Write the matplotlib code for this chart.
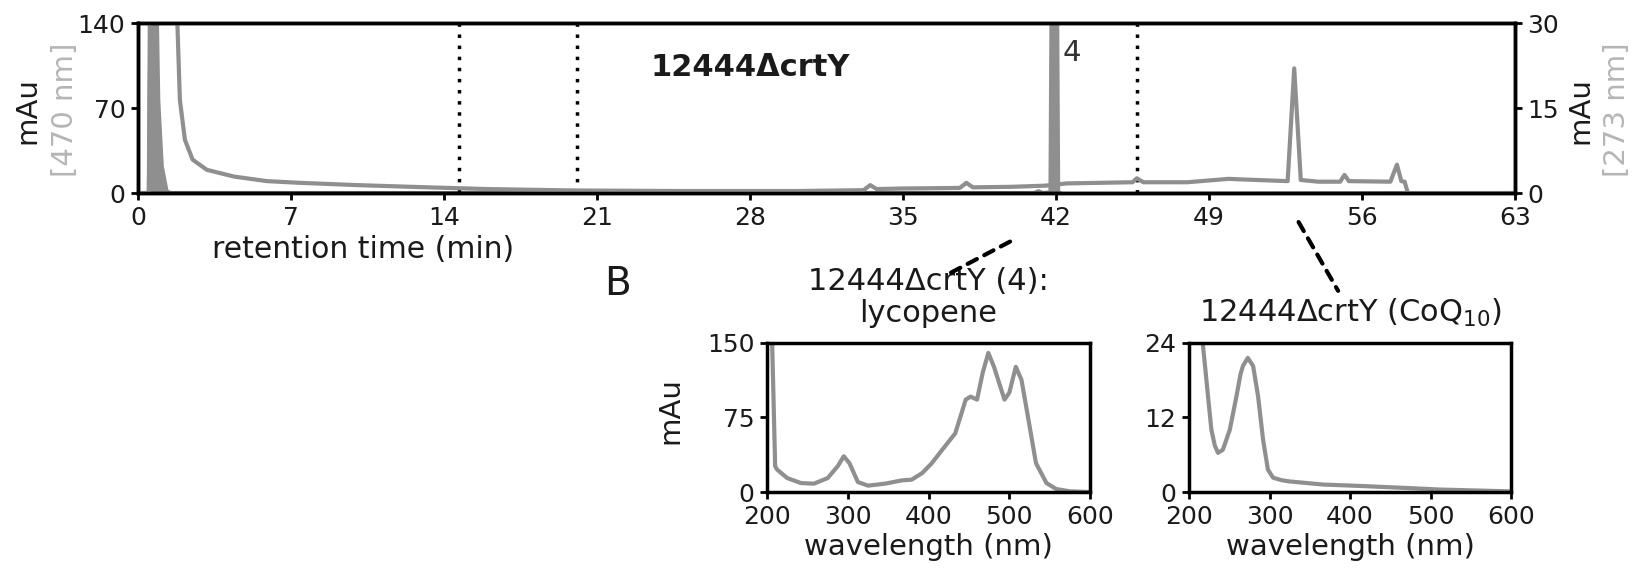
import matplotlib
matplotlib.use("Agg")
import matplotlib.pyplot as plt
from matplotlib.patches import ConnectionPatch

plt.rcParams["font.family"] = ["DejaVu Sans"]

# chromatogram, 470 nm trace (left axis)
t470 = [0, 0.5, 0.55, 0.85, 0.93, 1.09, 1.31, 1.5, 41.0, 41.2, 41.4, 41.75, 41.8, 42.05, 42.1, 42.3, 63]
a470 = [0, 0, 160, 160, 76, 22, 1.4, 0, 0, 1.5, 0, 0.5, 160, 160, 0.5, -1, 0]

# chromatogram, 273 nm trace (right axis)
t273 = [0, 0.5, 0.6, 1.72, 1.92, 2.15, 2.5, 3.15, 4.4, 5.9, 7.4, 10, 13.3, 16, 20, 25, 30,
        33.2, 33.5, 33.8, 35, 37.6, 37.9, 38.2, 40, 41.5, 42.5, 44, 45.5, 45.7, 46, 48,
        49.9, 50.5, 52.6, 52.9, 53.2, 54, 55.0, 55.2, 55.4, 57.3, 57.6, 57.8, 57.95, 58.1, 63]
a273 = [0, 0, 40, 40, 16.4, 9.4, 5.9, 4.1, 2.9, 2.1, 1.8, 1.4, 1.0, 0.7, 0.45, 0.35, 0.35,
        0.5, 1.4, 0.7, 0.8, 0.9, 1.8, 1.0, 1.1, 1.3, 1.7, 1.8, 1.9, 2.6, 1.9, 1.9,
        2.5, 2.4, 2.1, 22, 2.3, 2.0, 2.0, 3.2, 2.1, 2.0, 5.0, 2.1, 2.0, 0, 0]

dotted_times = [14.7, 20.1, 45.7]

# UV-Vis spectrum of peak 4 (lycopene)
wl_lyc = [200, 206, 210, 212.5, 225, 242, 258, 275, 287.5, 295, 302, 312.5, 325, 346, 367,
          379, 392, 404, 417, 433, 446, 452, 460, 467, 474, 481, 494, 500, 508, 515, 523,
          533, 546, 558, 575, 600]
ab_lyc = [200, 160, 26, 22.5, 14, 9, 8.4, 14, 26, 36, 29, 10, 6.4, 8.4, 11.7,
          12.4, 19, 29, 42.6, 59, 93, 96, 93, 120, 140, 126, 93, 100, 126, 113, 76,
          29, 9, 3, 0.7, 0]

# UV-Vis spectrum of CoQ10
wl_coq = [200, 215, 217, 219.5, 223.6, 227.8, 232, 236, 242, 250.6, 258.9, 264, 267, 273,
          279.6, 285.8, 292, 298, 304.5, 315, 325, 366.6, 408, 470, 511, 600]
ab_coq = [40, 30, 24, 20.8, 15.4, 10, 7.5, 6.3, 6.8, 10, 15.4, 19, 20.3, 21.6,
          20.3, 15.4, 8.4, 3.6, 2.3, 1.9, 1.7, 1.2, 1.0, 0.65, 0.4, 0.1]

trace_col = "#8f8f8f"
label_grey = "#b5b5b5"
txt_col = "#1a1a1a"
tick_fs = 18
lab_fs = 21
title_fs = 22

fig = plt.figure(figsize=(16.38, 5.86), dpi=100)


def style_axes(ax):
    for sp in ax.spines.values():
        sp.set_linewidth(2.5)
        sp.set_color("black")
    ax.tick_params(direction="out", length=5, width=2, labelsize=tick_fs,
                   labelcolor=txt_col, pad=4)
    ax.tick_params(top=False)


ax = fig.add_axes([0.0842, 0.6706, 0.8407, 0.2901])
ax.fill_between(t470, a470, 0, color=trace_col, lw=0)
ax.plot(t470, a470, color=trace_col, lw=3, solid_joinstyle="miter")
ax.set_xlim(0, 63)
ax.set_ylim(0, 140)
ax.set_xticks(range(0, 64, 7))
ax.set_yticks([0, 70, 140])
for t in dotted_times:
    ax.axvline(t, color="black", lw=2.5, linestyle=(0, (1, 2.2)))
style_axes(ax)
ax.tick_params(right=False)

ax2 = ax.twinx()
ax2.plot(t273, a273, color=trace_col, lw=3)
ax2.set_ylim(0, 30)
ax2.set_yticks([0, 15, 30])
style_axes(ax2)
ax2.tick_params(left=False, bottom=False, labelbottom=False)

ax.text(28.0, 103, "12444ΔcrtY", fontsize=title_fs, fontweight="bold",
        ha="center", va="center", color=txt_col)
ax.text(42.3, 115, "4", fontsize=lab_fs, ha="left", va="center", color="#333333")

fig.text(0.2216, 0.575, "retention time (min)", fontsize=21.5, ha="center",
         va="center", color=txt_col)
fig.text(0.0165, 0.812, "mAu", fontsize=lab_fs, rotation=90, ha="center",
         va="center", color=txt_col)
fig.text(0.0397, 0.812, "[470 nm]", fontsize=lab_fs, rotation=90, ha="center",
         va="center", color=label_grey)
fig.text(0.9646, 0.812, "mAu", fontsize=lab_fs, rotation=90, ha="center",
         va="center", color=txt_col)
fig.text(0.9872, 0.812, "[273 nm]", fontsize=lab_fs, rotation=90, ha="center",
         va="center", color=label_grey)
fig.text(0.377, 0.515, "B", fontsize=28, ha="center", va="center", color=txt_col)

# inset spectra
ins1 = fig.add_axes([0.4683, 0.1604, 0.1972, 0.2543])
ins1.plot(wl_lyc, ab_lyc, color=trace_col, lw=3)
ins1.set_xlim(200, 600)
ins1.set_ylim(0, 150)
ins1.set_xticks([200, 300, 400, 500, 600])
ins1.set_yticks([0, 75, 150])
ins1.set_xlabel("wavelength (nm)", fontsize=lab_fs, color=txt_col, labelpad=3)
ins1.set_title("12444ΔcrtY (4):\nlycopene", fontsize=title_fs, color=txt_col,
               pad=15, linespacing=1.12)
fig.text(0.409, 0.2986, "mAu", fontsize=lab_fs, rotation=90, ha="center",
         va="center", color=txt_col)
style_axes(ins1)

ins2 = fig.add_axes([0.7259, 0.1604, 0.1966, 0.2543])
ins2.plot(wl_coq, ab_coq, color=trace_col, lw=3)
ins2.set_xlim(200, 600)
ins2.set_ylim(0, 24)
ins2.set_xticks([200, 300, 400, 500, 600])
ins2.set_yticks([0, 12, 24])
ins2.set_xlabel("wavelength (nm)", fontsize=lab_fs, color=txt_col, labelpad=3)
ins2.set_title("12444ΔcrtY (CoQ$_{10}$)", fontsize=title_fs, color=txt_col, pad=15)
style_axes(ins2)

# connectors from chromatogram peaks to spectra
for xy_a, inset, xy_b in [((39.9, -40.0), ins1, (0.55, 1.45)),
                          ((53.1, -23.9), ins2, (0.463, 1.35))]:
    con = ConnectionPatch(xyA=xy_a, coordsA="data", axesA=ax,
                          xyB=xy_b, coordsB="axes fraction", axesB=inset,
                          color="black", lw=3, linestyle=(0, (2.5, 2)))
    con.set_annotation_clip(False)
    fig.add_artist(con)

fig.savefig("out.png", dpi=100)
